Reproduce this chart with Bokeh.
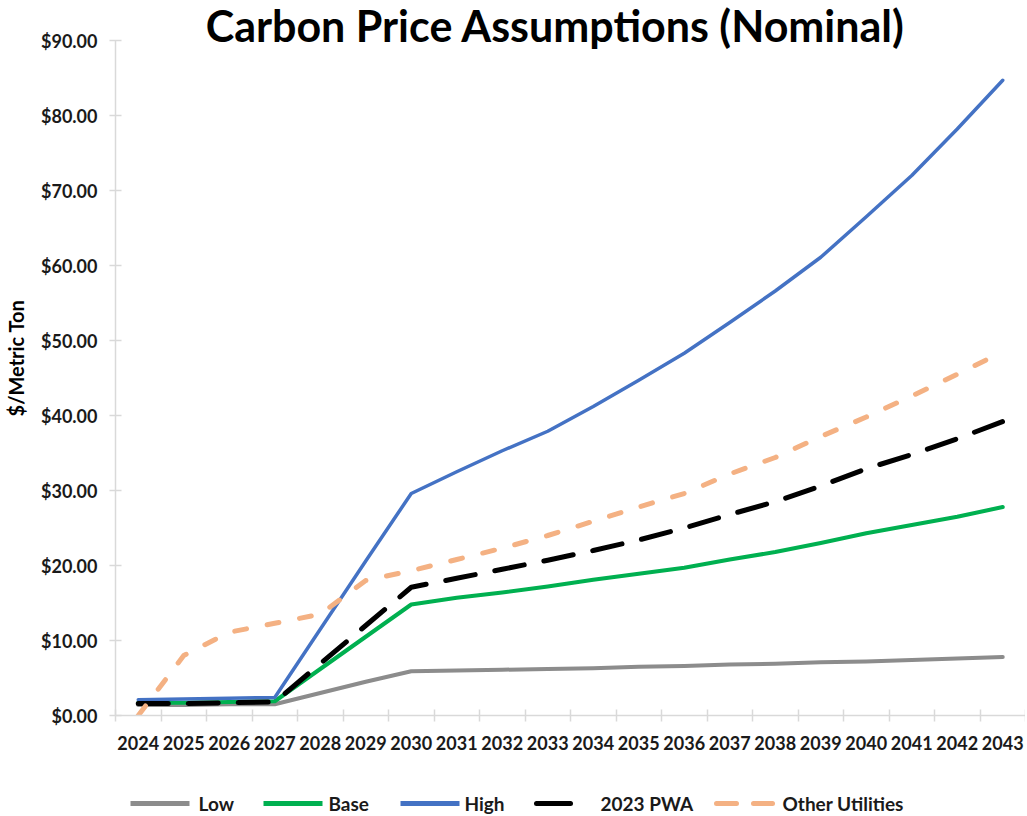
from bokeh.plotting import figure
from bokeh.layouts import column
from bokeh.models import (Range1d, FixedTicker, NumeralTickFormatter, Label)
from bokeh.core.properties import value
from bokeh.embed import file_html
from bokeh.resources import INLINE

years = [2024, 2025, 2026, 2027, 2028, 2029, 2030, 2031, 2032, 2033,
         2034, 2035, 2036, 2037, 2038, 2039, 2040, 2041, 2042, 2043]

low = [1.4, 1.4, 1.5, 1.5, 3.0, 4.5, 5.9, 6.0, 6.1, 6.2,
       6.3, 6.5, 6.6, 6.8, 6.9, 7.1, 7.2, 7.4, 7.6, 7.8]
base = [1.7, 1.7, 1.8, 1.9, 6.2, 10.5, 14.8, 15.7, 16.4, 17.2,
        18.1, 18.9, 19.7, 20.8, 21.8, 23.0, 24.3, 25.4, 26.5, 27.8]
high = [2.1, 2.2, 2.3, 2.4, 11.5, 20.6, 29.6, 32.5, 35.3, 37.9,
        41.2, 44.7, 48.3, 52.4, 56.6, 61.1, 66.5, 72.0, 78.2, 84.7]
pwa_2023 = [1.6, 1.6, 1.7, 1.8, 6.9, 12.0, 17.1, 18.3, 19.5, 20.7,
            22.0, 23.4, 25.0, 26.8, 28.5, 30.6, 32.9, 34.8, 36.9, 39.2]
other_utilities = [0.0, 8.0, 11.1, 12.3, 13.5, 18.0, 19.3, 20.8, 22.3, 24.0,
                   25.9, 27.8, 29.6, 32.2, 34.4, 37.2, 39.8, 42.6, 45.5, 48.5]

series_names = ["Low", "Base", "High", "2023 PWA", "Other Utilities"]
y_ticks = [0, 10, 20, 30, 40, 50, 60, 70, 80, 90]
title_text = "Carbon Price Assumptions (Nominal)"
y_label = "$/Metric Ton"

FONT = "Lato"
xs = list(range(len(years)))
series_values = [low, base, high, pwa_2023, other_utilities]
colors = ["#8c8c8c", "#00b050", "#4472c4", "#000000", "#f4b183"]
widths = [4, 4, 3.5, 5, 5]
dashes = ["solid", "solid", "solid", "30 20", "12 21"]

Y_MAX = 90
# frame reaches the top of the canvas; 90 sits 40px below it (7.5 px per unit)
p = figure(width=1025, height=770, output_backend="svg", toolbar_location=None,
           x_range=Range1d(-0.5, len(years) - 0.5), y_range=Range1d(0, Y_MAX + 40 / 7.5),
           min_border_left=115, min_border_right=0, min_border_top=0,
           min_border_bottom=55, outline_line_color=None)
p.grid.visible = False

xa = p.xaxis[0]
xa.ticker = FixedTicker(ticks=xs, minor_ticks=[i - 0.5 for i in range(len(years) + 1)])
xa.major_label_overrides = {i: str(y) for i, y in enumerate(years)}
xa.major_tick_in = 0
xa.major_tick_out = 0
xa.minor_tick_in = 6
xa.minor_tick_out = 6
xa.minor_tick_line_color = "#d9d9d9"
xa.minor_tick_line_width = 1.5
xa.axis_line_color = "#d9d9d9"
xa.axis_line_width = 1.5
xa.major_label_standoff = 14
xa.major_label_text_font = FONT
xa.major_label_text_font_style = "bold"
xa.major_label_text_font_size = "18px"
xa.major_label_text_color = "#1a1a1a"

ya = p.yaxis[0]
ya.bounds = (0, Y_MAX)
ya.ticker = FixedTicker(ticks=y_ticks, minor_ticks=[])
ya.formatter = NumeralTickFormatter(format="$0.00")
ya.major_tick_in = 6
ya.major_tick_out = 6
ya.major_tick_line_color = "#d9d9d9"
ya.major_tick_line_width = 1.5
ya.axis_line_color = "#d9d9d9"
ya.axis_line_width = 1.5
ya.major_label_standoff = 12
ya.major_label_text_font = FONT
ya.major_label_text_font_style = "bold"
ya.major_label_text_font_size = "18px"
ya.major_label_text_color = "#1a1a1a"
ya.axis_label = y_label
ya.axis_label_standoff = 10
ya.axis_label_text_font = FONT
ya.axis_label_text_font_style = "bold"
ya.axis_label_text_font_size = "20px"
ya.axis_label_text_color = "#000000"

for vals, c, w, d in zip(series_values, colors, widths, dashes):
    p.line(xs, vals, line_color=c, line_width=w, line_dash=d,
           line_cap="round", line_join="round")

p.add_layout(Label(x=9.17, y=Y_MAX + 2, text=title_text, text_align="center",
                   text_baseline="middle", text_font=FONT, text_font_style="bold",
                   text_font_size="43px", text_color="#000000"))

# legend strip below the chart; its frame is aligned with the chart frame (115..1025 px)
pl = figure(width=1025, height=45, output_backend="svg", toolbar_location=None,
            x_range=Range1d(115, 1025), y_range=Range1d(0, 45),
            x_axis_location=None, y_axis_location=None, min_border=0,
            outline_line_color=None)
pl.grid.visible = False
leg_x0 = [130, 263, 400, 536, 716]
leg_x1 = [189, 322, 459, 570, 772]
leg_text_x = [198, 328, 464, 600, 782]
leg_dash = ["solid", "solid", "solid", "solid", "20 17"]
leg_y = 12
for x0, x1, c, d in zip(leg_x0, leg_x1, colors, leg_dash):
    pl.line([x0, x1], [leg_y, leg_y], line_color=c, line_width=5, line_dash=d,
            line_cap="round" if d != "solid" or c == "#000000" else "butt")
pl.text(x=leg_text_x, y=[leg_y] * len(series_names), text=series_names,
        text_font=value(FONT), text_font_style="bold", text_font_size="19px",
        text_color="#1a1a1a", text_baseline="middle", text_align="left")

layout = column(p, pl, spacing=0)
open("out.html", "w").write(file_html(layout, INLINE))
